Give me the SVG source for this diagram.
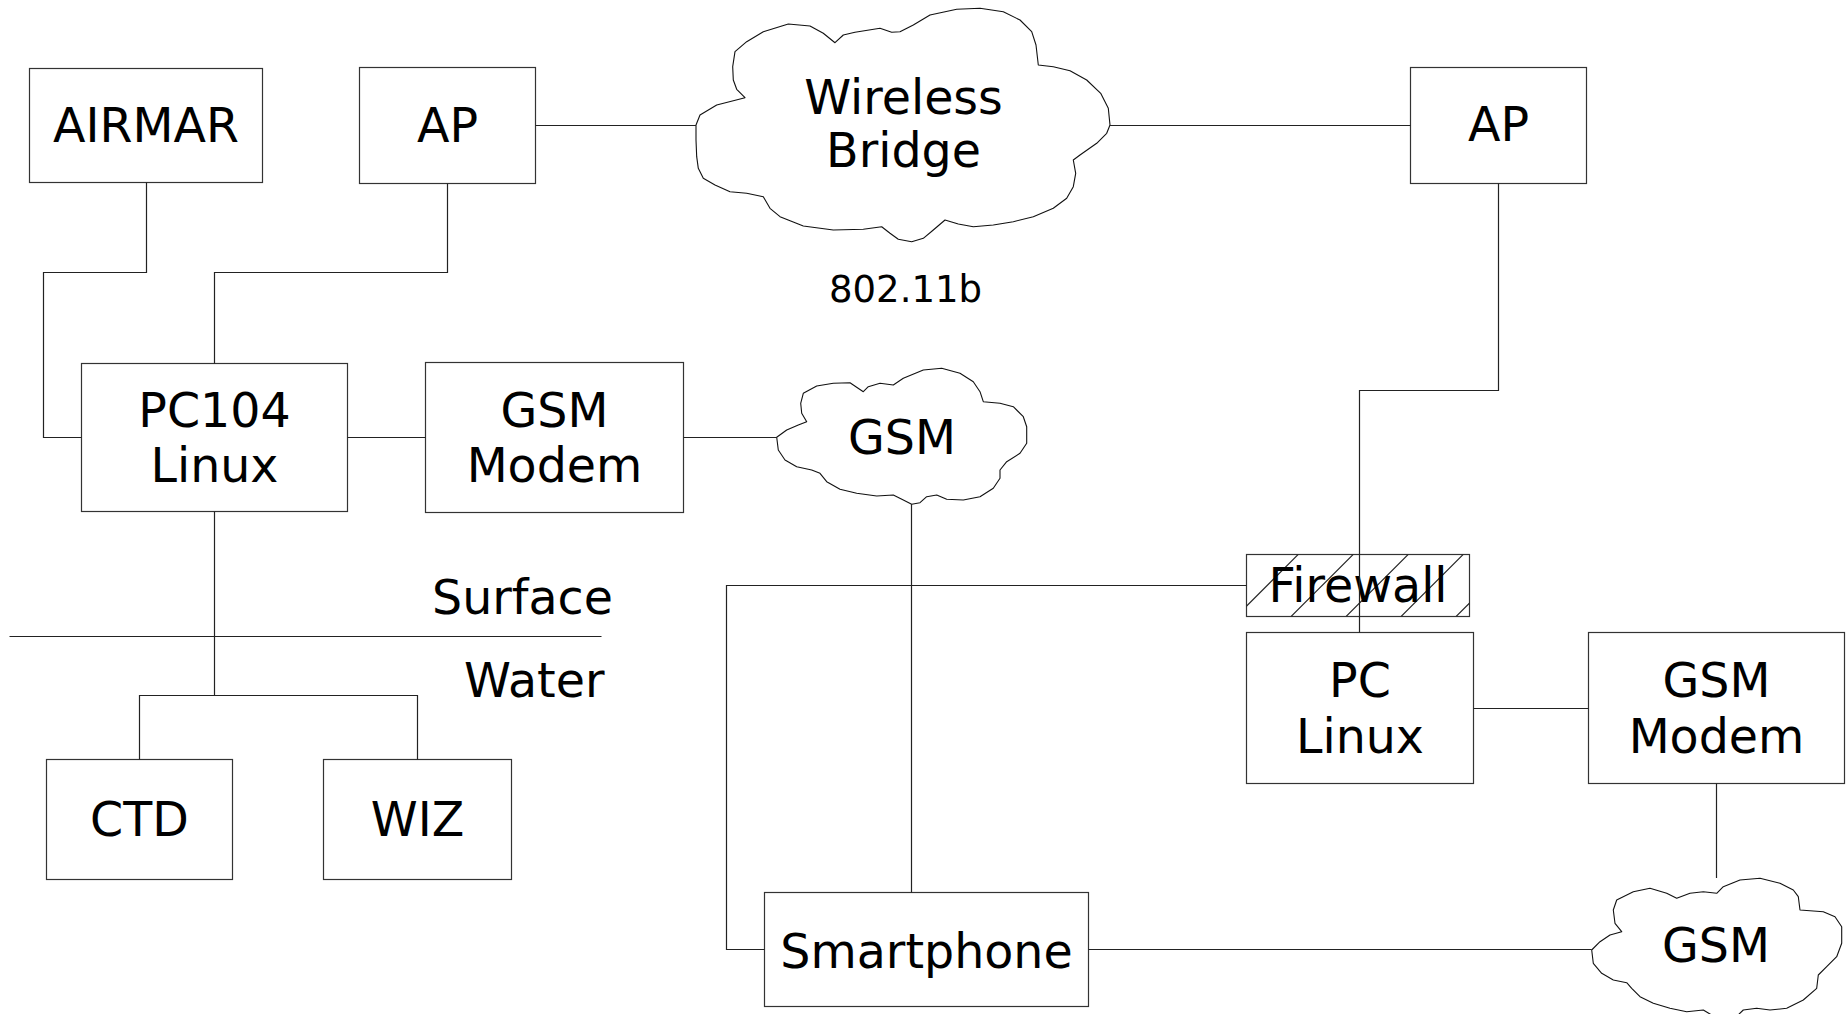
<svg xmlns="http://www.w3.org/2000/svg" width="1846" height="1014" viewBox="0 0 1846 1014">
<style>
.box{fill:#fff;stroke:#333;stroke-width:1.2}
.cloud{fill:#fff;stroke:#111;stroke-width:1.1;stroke-linejoin:round}
.lbl{font-family:"DejaVu Sans",sans-serif;font-size:47.5px;fill:#000;text-anchor:middle}
.small{font-size:37px}
.conn{fill:none;stroke:#222;stroke-width:1.2}
.hatch{stroke:#222;stroke-width:1.1}
</style>
<defs>
<clipPath id="fwclip"><rect x="1246.5" y="554.5" width="223" height="62"/></clipPath>
</defs>
<rect width="1846" height="1014" fill="#fff"/>

<g id="nodes">
<g id="airmar"><rect class="box" x="29.5" y="68.5" width="233" height="114"/><text class="lbl" x="146" y="142">AIRMAR</text></g>
<g id="ap1"><rect class="box" x="359.5" y="67.5" width="176" height="116"/><text class="lbl" x="447.5" y="142">AP</text></g>
<g id="ap2"><rect class="box" x="1410.5" y="67.5" width="176" height="116"/><text class="lbl" x="1498.5" y="140.5">AP</text></g>
<g id="wireless-bridge">
<polygon class="cloud" points="696,125 700,115 716.7,105 745,97.7 736.7,89.3 733.3,80 732.7,66.7 735,51.7 746.7,41.7 763.3,31.7 788.3,24 810,26 823.3,33.3 835,42.7 843.3,35 855,32.3 880,28.3 891.7,32.3 900,31.7 913.3,25 930,15 956.7,9.3 980,8.3 1003.3,11.7 1020,20 1031.7,31.7 1036,45 1038.3,65 1053.3,66.7 1070,70.7 1086.7,80 1100.7,93.3 1108.3,108.3 1110,125 1106.7,133.3 1096.7,143.3 1080,155 1073.3,160 1075.7,173.3 1073.3,186.7 1066.7,198.3 1053.3,208.3 1033.3,216.7 1013.3,221.7 993.3,225 973.3,226.7 958.3,224 945,220 933.3,230 923.3,238.3 911.7,241.7 898.3,239.3 890,233.3 881.7,226.7 863.3,229.3 833.3,230 803.3,226 780,216.7 770,208.3 763.3,196.7 746.7,193.3 730,191.7 715,185 703.3,178.3 698.3,168.3 696.7,156.7 696,140"/>
<text class="lbl" x="903.5" y="113.5">Wireless</text><text class="lbl" x="903.5" y="167">Bridge</text>
</g>
<text id="label-80211b" class="lbl small" x="905.5" y="301.7">802.11b</text>
<g id="pc104"><rect class="box" x="81.5" y="363.5" width="266" height="148"/><text class="lbl" x="214.5" y="427">PC104</text><text class="lbl" x="214.5" y="482">Linux</text></g>
<g id="gsm-modem-1"><rect class="box" x="425.5" y="362.5" width="258" height="150"/><text class="lbl" x="554.5" y="426.5">GSM</text><text class="lbl" x="554.5" y="482">Modem</text></g>
<g id="gsm-cloud-1">
<polygon class="cloud" points="776.7,437.3 778.3,450 785,460 796.7,466.7 811.7,470 820,473.3 826.7,481.7 840,489.3 856.7,493.3 876.7,496 893.3,495 903.3,500 911.7,504.3 920,502.7 926.7,496.7 936.7,495 946.7,499.3 963.3,500 980,496.7 993.3,488.3 1000,478.3 1000,470 1006.7,461.7 1020,453.3 1026.7,443.3 1026.7,426.7 1023.3,416.7 1013.3,406.7 1000,403.3 983.3,401.7 980,391.7 973.3,381.7 960,373.3 941.7,368.3 923.3,370 903.3,378.3 893.3,385 880,383.3 868.3,386.7 863.3,391.7 850,382.7 833.3,383.3 816.7,386 803.3,393.3 800.7,403.3 801.7,413.3 806.7,421.7 798.3,425 786.7,430"/>
<text class="lbl" x="902" y="453.5">GSM</text>
</g>
<g id="ctd"><rect class="box" x="46.5" y="759.5" width="186" height="120"/><text class="lbl" x="139.5" y="835.5">CTD</text></g>
<g id="wiz"><rect class="box" x="323.5" y="759.5" width="188" height="120"/><text class="lbl" x="417.5" y="835.5">WIZ</text></g>
<g id="firewall">
<rect class="box" x="1246.5" y="554.5" width="223" height="62"/>
<g clip-path="url(#fwclip)" class="hatch">
<line x1="1243.3" y1="554.3" x2="1180.9" y2="616.7"/>
<line x1="1298.3" y1="554.3" x2="1235.9" y2="616.7"/>
<line x1="1353.3" y1="554.3" x2="1290.9" y2="616.7"/>
<line x1="1408.3" y1="554.3" x2="1345.9" y2="616.7"/>
<line x1="1463.3" y1="554.3" x2="1400.9" y2="616.7"/>
<line x1="1518.3" y1="554.3" x2="1455.9" y2="616.7"/>
</g>
<text class="lbl" x="1358" y="602">Firewall</text>
</g>
<g id="pc-linux"><rect class="box" x="1246.5" y="632.5" width="227" height="151"/><text class="lbl" x="1360" y="697">PC</text><text class="lbl" x="1360" y="753">Linux</text></g>
<g id="gsm-modem-2"><rect class="box" x="1588.5" y="632.5" width="256" height="151"/><text class="lbl" x="1716.5" y="697">GSM</text><text class="lbl" x="1716.5" y="753">Modem</text></g>
<g id="smartphone"><rect class="box" x="764.5" y="892.5" width="324" height="114"/><text class="lbl" x="926.5" y="968">Smartphone</text></g>
<g id="gsm-cloud-2">
<polygon class="cloud" points="1591.7,950 1593.3,963.3 1601.7,973.3 1613.3,980 1626.7,982.7 1631.7,988.3 1640,996.7 1653.3,1003.3 1670,1008.3 1686.7,1011.7 1703.3,1010 1713.3,1016 1720,1022 1735,1018 1743.3,1010 1756.7,1008.3 1770,1010 1786.7,1008.3 1803.3,1000 1816.7,988.3 1818.3,975 1826.7,966.7 1836.7,956.7 1841.7,943.3 1841.7,926.7 1835,916.7 1823.3,911.7 1800,910 1798.3,896.7 1793.3,890 1780,883.3 1760,878.3 1740,880 1723.3,886.7 1716.7,893.3 1703.3,891.7 1690,893.3 1676.7,898.3 1666.7,893.3 1650,888.3 1633.3,891.7 1616.7,900 1613.3,910 1615,923.3 1621.7,931.7 1610,935 1600,941.7"/>
<text class="lbl" x="1716" y="962">GSM</text>
</g>
</g>

<g id="separator">
<line class="conn" x1="9.5" y1="636.5" x2="601.5" y2="636.5"/>
<text class="lbl" x="432" y="614" style="text-anchor:start">Surface</text>
<text class="lbl" x="464" y="697" style="text-anchor:start">Water</text>
</g>

<g id="connectors">
<polyline class="conn" points="146.5,182.5 146.5,272.5 43.5,272.5 43.5,437.5 81.5,437.5"/>
<polyline class="conn" points="447.5,183.5 447.5,272.5 214.5,272.5 214.5,363.5"/>
<line class="conn" x1="535.5" y1="125.5" x2="696" y2="125.5"/>
<line class="conn" x1="1110" y1="125.5" x2="1410.5" y2="125.5"/>
<line class="conn" x1="347.5" y1="437.5" x2="425.5" y2="437.5"/>
<line class="conn" x1="683.5" y1="437.5" x2="777" y2="437.5"/>
<line class="conn" x1="214.5" y1="511.5" x2="214.5" y2="695.5"/>
<polyline class="conn" points="139.5,759.5 139.5,695.5 417.5,695.5 417.5,759.5"/>
<polyline class="conn" points="1498.5,183.5 1498.5,390.5 1359.5,390.5 1359.5,632.5"/>
<polyline class="conn" points="1246.5,585.5 726.5,585.5 726.5,949.5 764.5,949.5"/>
<line class="conn" x1="911.5" y1="504" x2="911.5" y2="892.5"/>
<line class="conn" x1="1088.5" y1="949.5" x2="1591.7" y2="949.5"/>
<line class="conn" x1="1473.5" y1="708.5" x2="1588.5" y2="708.5"/>
<line class="conn" x1="1716.5" y1="783.5" x2="1716.5" y2="878"/>
</g>
</svg>
